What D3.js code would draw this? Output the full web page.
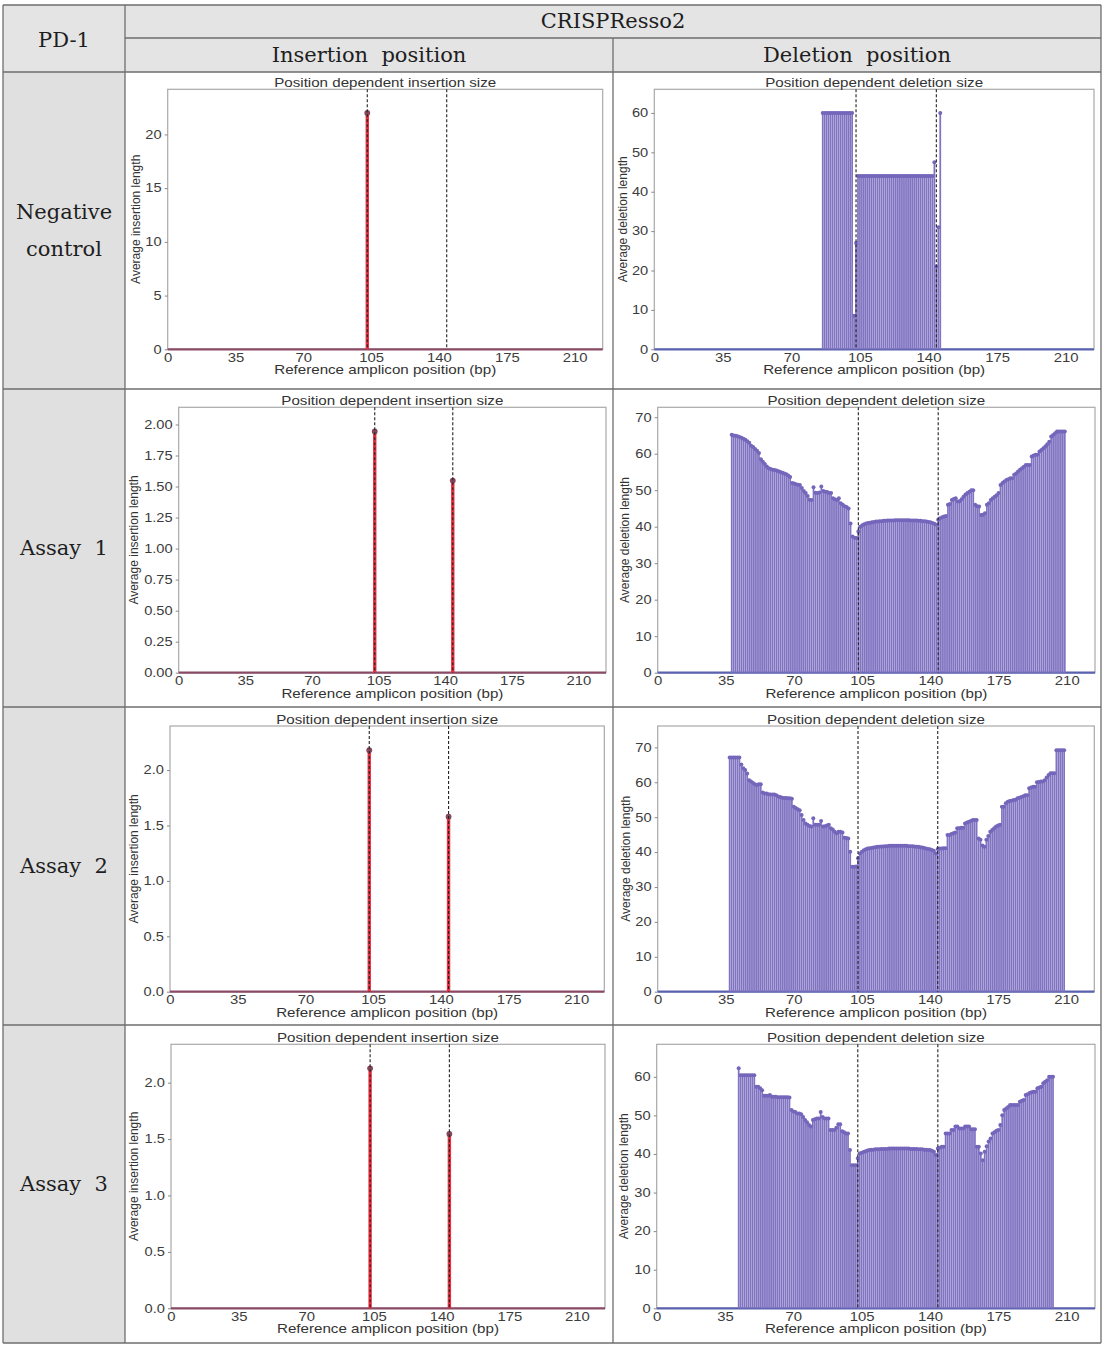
<!DOCTYPE html>
<html>
<head>
<meta charset="utf-8">
<script src="https://cdn.jsdelivr.net/npm/d3@7"></script>
<style>
  body { margin: 0; background: #fff; }
</style>
</head>
<body>
<div id="chart"></div>
<script>
// amplicon axis
var xTickValues = [0, 35, 70, 105, 140, 175, 210];
var ampliconEnd = 224.5;
var cutSites = [103, 144];

// header + row labels
var headTop = "CRISPResso2";
var headCols = ["Insertion  position", "Deletion  position"];
var headCorner = "PD-1";
var rowLabels = [["Negative", "control"], ["Assay  1"], ["Assay  2"], ["Assay  3"]];

// y tick labels per panel
var yTicksInsNeg = [0, 5, 10, 15, 20];
var yTicksInsA1 = [0, 0.25, 0.5, 0.75, 1.0, 1.25, 1.5, 1.75, 2.0];
var yTicksInsA2 = [0, 0.5, 1.0, 1.5, 2.0];
var yTicksInsA3 = [0, 0.5, 1.0, 1.5, 2.0];
var yTicksDelNeg = [0, 10, 20, 30, 40, 50, 60];
var yTicksDelA1 = [0, 10, 20, 30, 40, 50, 60, 70];
var yTicksDelA2 = [0, 10, 20, 30, 40, 50, 60, 70];
var yTicksDelA3 = [0, 10, 20, 30, 40, 50, 60];

// insertion: position -> average insertion length
var insNegPos = [103];
var insNegVal = [22.0];
var insA1Pos = [103, 144];
var insA1Val = [1.944, 1.548];
var insA2Pos = [103, 144];
var insA2Val = [2.18, 1.58];
var insA3Pos = [103, 144];
var insA3Val = [2.127, 1.545];

// deletion: first position, then one value per bp
var delNegStart = 86;
var delNegVal = [
  60, 60, 60, 60, 60, 60, 60, 60, 60, 60, 60, 60, 60, 60, 60, 60,
  8.5, 27,
  44, 44, 44, 44, 44, 44, 44, 44, 44, 44, 44, 44, 44, 44, 44, 44, 44, 44, 44, 44,
  44, 44, 44, 44, 44, 44, 44, 44, 44, 44, 44, 44, 44, 44, 44, 44, 44, 44, 44,
  47.5, 21, 31, 60
];

var delA1Start = 38;
var delA1Val = [
  65.2, 65.0, 64.9, 64.8, 64.6, 64.4, 64.1, 63.8, 63.4, 63.0,
  62.2, 61.8, 61.3, 60.8, 60.2, 58.5, 57.8, 57.2, 56.5, 56.0,
  55.8, 55.6, 55.5, 55.4, 55.2, 55.0, 54.8, 54.6, 54.4, 54.0,
  53.6, 52.0, 51.8, 51.6, 51.5, 51.4, 50.6, 49.8, 49.2, 48.4,
  47.4, 47.3, 50.8, 49.3, 49.2, 49.4, 51.0, 49.8, 49.6, 49.5,
  49.2, 49.2, 47.8, 47.5, 47.3, 47.8, 46.4, 46.0, 45.6, 45.4,
  45.0, 40.9, 37.3, 37.0, 36.9, 38.7, 40.0, 40.4, 40.7, 40.9,
  41.0, 41.1, 41.2, 41.3, 41.4, 41.4, 41.5, 41.5, 41.6, 41.6,
  41.7, 41.7, 41.7, 41.7, 41.8, 41.8, 41.8, 41.8, 41.8, 41.8,
  41.8, 41.8, 41.7, 41.7, 41.7, 41.7, 41.6, 41.6, 41.5, 41.5,
  41.4, 41.3, 41.2, 41.0, 40.8, 40.5, 41.9, 42.3, 42.6, 42.8,
  42.9, 46.0, 46.2, 47.3, 47.6, 47.8, 46.9, 47.0, 47.5, 48.2,
  48.8, 49.2, 49.6, 50.0, 50.0, 46.0, 45.6, 45.5, 43.2, 43.3,
  43.7, 46.0, 46.4, 47.3, 47.8, 48.2, 48.6, 49.2, 51.4, 52.0,
  52.4, 52.8, 53.0, 53.3, 53.3, 54.2, 54.6, 55.1, 55.6, 56.0,
  56.4, 56.9, 56.9, 56.9, 59.2, 59.5, 59.7, 59.7, 60.6, 61.0,
  61.5, 62.0, 62.6, 63.3, 64.7, 65.1, 65.6, 66.1, 66.1, 66.1,
  66.1, 66.1
];

var delA2Start = 37;
var delA2Val = [
  67.1, 67.1, 67.1, 67.1, 67.1, 67.1, 65.1, 64.0, 63.5, 62.5,
  60.6, 60.2, 59.8, 59.4, 59.2, 59.4, 59.4, 57.1, 56.8, 56.8,
  56.6, 56.5, 56.5, 56.5, 56.3, 55.9, 55.8, 55.6, 55.5, 55.5,
  55.4, 55.4, 55.3, 53.0, 52.6, 52.3, 52.0, 50.6, 49.2, 48.2,
  47.8, 47.5, 47.3, 49.7, 47.8, 47.8, 47.8, 48.9, 47.3, 47.4,
  47.6, 47.8, 46.8, 46.5, 45.8, 45.4, 45.8, 45.8, 45.6, 44.1,
  44.0, 43.9, 40.1, 35.8, 35.8, 35.9, 38.2, 39.6, 40.1, 40.5,
  40.8, 41.0, 41.1, 41.2, 41.3, 41.4, 41.5, 41.5, 41.6, 41.6,
  41.7, 41.7, 41.8, 41.8, 41.8, 41.8, 41.8, 41.8, 41.8, 41.8,
  41.8, 41.8, 41.7, 41.7, 41.7, 41.6, 41.5, 41.5, 41.4, 41.3,
  41.2, 41.0, 40.9, 40.8, 40.6, 40.4, 39.6, 40.9, 41.0, 41.0,
  41.1, 41.1, 44.9, 44.9, 45.2, 45.4, 45.6, 46.8, 46.8, 47.0,
  47.0, 48.2, 48.5, 48.7, 48.9, 49.2, 49.2, 49.2, 43.9, 43.5,
  41.9, 41.5, 43.5, 44.6, 45.8, 46.3, 46.8, 47.3, 47.6, 47.8,
  53.0, 53.0, 54.0, 54.4, 54.6, 54.7, 54.9, 55.0, 55.4, 55.6,
  55.8, 56.0, 56.3, 56.3, 58.3, 58.5, 58.7, 58.7, 60.0, 60.1,
  60.2, 60.2, 60.6, 61.4, 62.1, 62.6, 62.6, 62.6, 69.2, 69.2,
  69.2, 69.2, 69.2
];

var delA3Start = 42;
var delA3Val = [
  62.2, 60.4, 60.4, 60.4, 60.4, 60.4, 60.4, 60.4, 60.4, 57.4,
  57.4, 57.0, 56.5, 55.1, 55.1, 55.1, 55.3, 54.8, 54.8, 54.8,
  54.7, 54.7, 54.7, 54.7, 54.7, 54.7, 54.6, 51.4, 51.0, 50.9,
  50.5, 50.5, 50.3, 49.6, 48.8, 48.2, 47.5, 47.1, 48.8, 49.0,
  49.2, 49.2, 50.9, 49.6, 49.2, 49.2, 49.2, 46.2, 46.2, 46.2,
  46.8, 47.7, 47.7, 45.9, 45.6, 45.3, 45.3, 41.0, 37.1, 37.1,
  37.1, 38.9, 40.1, 40.3, 40.5, 40.7, 40.9, 41.0, 41.1, 41.1,
  41.2, 41.2, 41.2, 41.3, 41.3, 41.3, 41.3, 41.4, 41.4, 41.4,
  41.4, 41.4, 41.4, 41.4, 41.4, 41.4, 41.4, 41.4, 41.3, 41.3,
  41.3, 41.3, 41.2, 41.2, 41.2, 41.1, 41.1, 41.0, 41.0, 40.8,
  40.6, 39.7, 41.4, 41.6, 41.9, 41.9, 45.3, 45.3, 45.3, 46.2,
  46.2, 47.1, 47.1, 46.6, 46.6, 46.6, 47.1, 47.1, 47.1, 46.4,
  46.4, 46.4, 41.9, 41.9, 40.1, 38.4, 40.6, 42.0, 43.2, 44.0,
  45.3, 45.6, 46.0, 46.2, 47.5, 50.0, 51.4, 51.8, 52.2, 52.7,
  52.7, 52.7, 52.7, 52.7, 53.5, 53.8, 54.0, 55.3, 55.5, 55.8,
  56.0, 56.1, 56.1, 57.0, 57.2, 57.4, 58.3, 58.7, 59.1, 60.0,
  60.0, 60.0
];

var W = 1107, H = 1353;
var sansFont = "'Liberation Sans', Arial, sans-serif";
var serifFont = "'DejaVu Serif', 'Liberation Serif', serif";
var stretch = 1.22;

var svg = d3.select("#chart")
  .append("svg")
    .attr("width", W)
    .attr("height", H)
    .style("background", "#fff");

// ---- table ----
var tLeft = 3, tRight = 1101, colA = 125, colB = 613;
var rowLines = [5, 38, 72, 389, 707, 1025, 1343];

svg.append("rect")
  .attr("x", tLeft).attr("y", rowLines[0])
  .attr("width", tRight - tLeft).attr("height", rowLines[2] - rowLines[0])
  .attr("fill", "#e4e4e4");
svg.append("rect")
  .attr("x", tLeft).attr("y", rowLines[2])
  .attr("width", colA - tLeft).attr("height", rowLines[6] - rowLines[2])
  .attr("fill", "#e0e0e0");

var lineColor = "#6e6e6e";
function hline(x1, x2, yy) {
  svg.append("line").attr("x1", x1).attr("x2", x2).attr("y1", yy).attr("y2", yy)
    .attr("stroke", lineColor).attr("stroke-width", 1.3);
}
function vline(xx, y1, y2) {
  svg.append("line").attr("x1", xx).attr("x2", xx).attr("y1", y1).attr("y2", y2)
    .attr("stroke", lineColor).attr("stroke-width", 1.3);
}
hline(tLeft, tRight, rowLines[0]);
hline(colA, tRight, rowLines[1]);
for (var r = 2; r < rowLines.length; r++) hline(tLeft, tRight, rowLines[r]);
vline(tLeft, rowLines[0], rowLines[6]);
vline(tRight, rowLines[0], rowLines[6]);
vline(colA, rowLines[0], rowLines[6]);
vline(colB, rowLines[1], rowLines[6]);

function serifText(txt, cx, cy) {
  svg.append("text")
    .attr("x", cx).attr("y", cy)
    .attr("text-anchor", "middle")
    .attr("dominant-baseline", "central")
    .attr("font-family", serifFont)
    .attr("font-size", 21)
    .attr("fill", "#1e1e1e")
    .style("white-space", "pre")
    .text(txt);
}
serifText(headTop, (colA + tRight) / 2, 21);
serifText(headCols[0], (colA + colB) / 2, 55);
serifText(headCols[1], (colB + tRight) / 2, 55);
serifText(headCorner, (tLeft + colA) / 2, 40);
rowLabels.forEach(function(lines, i) {
  var mid = (rowLines[i + 2] + rowLines[i + 3]) / 2;
  lines.forEach(function(t, j) {
    serifText(t, (tLeft + colA) / 2, mid + (j - (lines.length - 1) / 2) * 37);
  });
});

// ---- panels ----
var insStyle = { stem: "#e8303f", stemW: 3.4, marker: "#86465a", r: 2.9, base: "#8a4a66",
  title: "Position dependent insertion size", ylab: "Average insertion length" };
var delStyle = { stem: "#8074c2", stemW: 1.75, marker: "#7566bb", r: 2.0, base: "#5a62b0",
  title: "Position dependent deletion size", ylab: "Average deletion length" };

function seqPos(start, vals) { return vals.map(function(v, i) { return start + i; }); }

var panels = [
  { box: [167.7, 89.3, 602.7, 349.3], pos: insNegPos, vals: insNegVal, ticks: yTicksInsNeg, fmt: "d", st: insStyle, labDx: -32 },
  { box: [654.3, 89.3, 1094, 349.3], pos: seqPos(delNegStart, delNegVal), vals: delNegVal, ticks: yTicksDelNeg, fmt: "d", st: delStyle, labDx: -31 },
  { box: [178.7, 407.3, 606, 672.7], pos: insA1Pos, vals: insA1Val, ticks: yTicksInsA1, fmt: ".2f", st: insStyle, labDx: -45 },
  { box: [657.7, 407.3, 1095, 672.7], pos: seqPos(delA1Start, delA1Val), vals: delA1Val, ticks: yTicksDelA1, fmt: "d", st: delStyle, labDx: -33 },
  { box: [170, 726, 604.3, 991.7], pos: insA2Pos, vals: insA2Val, ticks: yTicksInsA2, fmt: ".1f", st: insStyle, labDx: -36 },
  { box: [657.7, 726, 1094.3, 991.7], pos: seqPos(delA2Start, delA2Val), vals: delA2Val, ticks: yTicksDelA2, fmt: "d", st: delStyle, labDx: -32 },
  { box: [171, 1044.3, 605, 1308.3], pos: insA3Pos, vals: insA3Val, ticks: yTicksInsA3, fmt: ".1f", st: insStyle, labDx: -37 },
  { box: [656.7, 1044.3, 1095, 1308.3], pos: seqPos(delA3Start, delA3Val), vals: delA3Val, ticks: yTicksDelA3, fmt: "d", st: delStyle, labDx: -33 }
];

function drawPanel(p) {
  var b = p.box, st = p.st;
  var g = svg.append("g");
  var x = d3.scaleLinear().domain([0, ampliconEnd]).range([b[0], b[2]]);
  var y = d3.scaleLinear().domain([0, d3.max(p.vals) * 1.1]).range([b[3], b[1]]);
  var pts = p.vals.map(function(v, i) { return { pos: p.pos[i], val: v }; });

  // white plot area + frame
  g.append("rect")
    .attr("x", b[0]).attr("y", b[1])
    .attr("width", b[2] - b[0]).attr("height", b[3] - b[1])
    .attr("fill", "#fff").attr("stroke", "#a9a9a9").attr("stroke-width", 1.2);

  // y axis
  var ya = g.append("g")
    .attr("transform", "translate(" + b[0] + ",0)")
    .call(d3.axisLeft(y).tickValues(p.ticks).tickFormat(d3.format(p.fmt)).tickSize(3).tickPadding(2));
  ya.select(".domain").remove();
  ya.selectAll("line").attr("stroke", "#888");
  ya.selectAll("text")
    .attr("font-family", sansFont).attr("font-size", 12).attr("fill", "#3c3c3c")
    .attr("transform", "scale(" + stretch + ",1)");

  // x axis
  var xa = g.append("g")
    .attr("transform", "translate(0," + b[3] + ")")
    .call(d3.axisBottom(x).tickValues(xTickValues).tickFormat(d3.format("d")).tickSize(0).tickPadding(4));
  xa.select(".domain").remove();
  xa.selectAll("text")
    .attr("font-family", sansFont).attr("font-size", 12.2).attr("fill", "#3c3c3c")
    .attr("transform", "scale(" + stretch + ",1)");

  // baseline of the stem plot
  g.append("line")
    .attr("x1", x(0)).attr("x2", x(ampliconEnd))
    .attr("y1", y(0)).attr("y2", y(0))
    .attr("stroke", st.base).attr("stroke-width", 2.2);

  // stems
  g.selectAll(".stem").data(pts).enter()
    .append("line")
    .attr("class", "stem")
    .attr("x1", function(d) { return x(d.pos); })
    .attr("x2", function(d) { return x(d.pos); })
    .attr("y1", y(0))
    .attr("y2", function(d) { return y(d.val); })
    .attr("stroke", st.stem)
    .attr("stroke-width", st.stemW);

  // markers
  g.selectAll(".mk").data(pts).enter()
    .append("circle")
    .attr("class", "mk")
    .attr("cx", function(d) { return x(d.pos); })
    .attr("cy", function(d) { return y(d.val); })
    .attr("r", st.r)
    .attr("fill", st.marker);

  // cut site dashed lines
  g.selectAll(".cut").data(cutSites).enter()
    .append("line")
    .attr("x1", function(d) { return x(d); })
    .attr("x2", function(d) { return x(d); })
    .attr("y1", b[1]).attr("y2", b[3])
    .attr("stroke", "#222").attr("stroke-width", 1.1)
    .attr("stroke-dasharray", "3,2");

  // title
  g.append("text")
    .attr("transform", "translate(" + ((b[0] + b[2]) / 2) + "," + (b[1] - 2) + ") scale(" + stretch + ",1)")
    .attr("text-anchor", "middle")
    .attr("font-family", sansFont).attr("font-size", 12.4).attr("fill", "#333")
    .text(st.title);

  // x label
  g.append("text")
    .attr("transform", "translate(" + ((b[0] + b[2]) / 2) + "," + (b[3] + 25) + ") scale(" + stretch + ",1)")
    .attr("text-anchor", "middle")
    .attr("font-family", sansFont).attr("font-size", 12.4).attr("fill", "#333")
    .text("Reference amplicon position (bp)");

  // y label
  g.append("text")
    .attr("transform", "translate(" + (b[0] + p.labDx) + "," + ((b[1] + b[3]) / 2) + ") rotate(-90)")
    .attr("text-anchor", "middle")
    .attr("dominant-baseline", "central")
    .attr("font-family", sansFont).attr("font-size", 12).attr("fill", "#333")
    .text(st.ylab);
}

panels.forEach(drawPanel);
</script>
</body>
</html>
